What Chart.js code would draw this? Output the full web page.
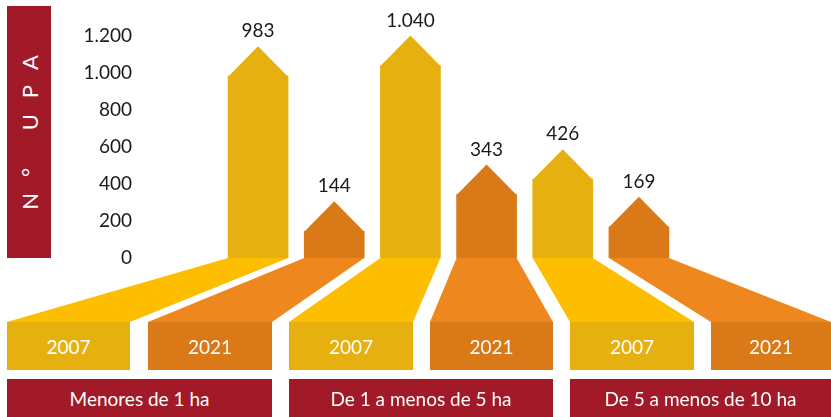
<!DOCTYPE html>
<html lang="es">
<head>
<meta charset="UTF-8">
<title>N° UPA por tamaño</title>
<script src="https://cdn.jsdelivr.net/npm/chart.js"></script>
<style>
  body { margin: 0; background: #fff; font-family: Lato, sans-serif; }
  #wrap { position: relative; width: 831px; height: 417px; overflow: hidden; }
  #myChart { position: absolute; left: 0; top: 0; }
  .box { position: absolute; color: #fff; display: flex; align-items: center; justify-content: center; font-size: 19px; }
  .red { background: #A21A27; }
  #ytitle { left: 7px; top: 6px; width: 44px; height: 252px; }
  #ytitle span { display: block; transform: rotate(-90deg); white-space: nowrap; font-size: 22px; letter-spacing: 16px; padding-left: 16px; }
</style>
</head>
<body>
<div id="wrap">
  <canvas id="myChart" width="831" height="417"></canvas>
  <div id="ytitle" class="box red"><span>N° UPA</span></div>
</div>

<script>
// data
const categories = ['Menores de 1 ha', 'De 1 a menos de 5 ha', 'De 5 a menos de 10 ha'];
const years = ['2007', '2021'];
const values2007 = [983, 1040, 426];
const values2021 = [144, 343, 169];
const yTicks = [0, 200, 400, 600, 800, 1000, 1200];

const bodyColors = { '2007': '#E6B011', '2021': '#DA7918' };
const funnelColors = { '2007': '#FDBE00', '2021': '#EE881E' };

// layout of the boxes under the bars
const yearBoxLeft = [7, 148, 289, 430, 570, 711];
const yearBoxWidth = [123, 124, 124, 123, 124, 120];
const catBoxLeft = [7, 289, 570];
const catBoxWidth = [265, 264, 261];
const yearBoxTop = 322, yearBoxH = 48, catBoxTop = 379, catBoxH = 38;

function fmt(v) {
    return String(v).replace(/\B(?=(\d{3})+(?!\d))/g, '.');
}

// one bar per (category, year)
const labels = [];
const values = [];
const barYears = [];
categories.forEach((c, i) => {
    labels.push(c + ' ' + years[0]); values.push(values2007[i]); barYears.push(years[0]);
    labels.push(c + ' ' + years[1]); values.push(values2021[i]); barYears.push(years[1]);
});

// html boxes with years and categories
const wrap = document.getElementById('wrap');
barYears.forEach((yr, i) => {
    const d = document.createElement('div');
    d.className = 'box';
    d.style.left = yearBoxLeft[i] + 'px';
    d.style.top = yearBoxTop + 'px';
    d.style.width = yearBoxWidth[i] + 'px';
    d.style.height = yearBoxH + 'px';
    d.style.background = bodyColors[yr];
    d.textContent = yr;
    wrap.appendChild(d);
});
categories.forEach((c, i) => {
    const d = document.createElement('div');
    d.className = 'box red';
    d.style.left = catBoxLeft[i] + 'px';
    d.style.top = catBoxTop + 'px';
    d.style.width = catBoxWidth[i] + 'px';
    d.style.height = catBoxH + 'px';
    d.textContent = c;
    wrap.appendChild(d);
});

const arrowPlugin = {
    id: 'arrows',
    beforeDatasetsDraw(chart) {
        // funnels from the bar foot down to the year boxes
        const ctx = chart.ctx;
        const base = chart.scales.y.getPixelForValue(0);
        chart.getDatasetMeta(0).data.forEach((bar, i) => {
            const half = bar.width / 2;
            ctx.save();
            ctx.fillStyle = funnelColors[barYears[i]];
            ctx.beginPath();
            ctx.moveTo(bar.x - half, base);
            ctx.lineTo(bar.x + half, base);
            ctx.lineTo(yearBoxLeft[i] + yearBoxWidth[i], yearBoxTop);
            ctx.lineTo(yearBoxLeft[i], yearBoxTop);
            ctx.closePath();
            ctx.fill();
            ctx.restore();
        });
    },
    afterDatasetsDraw(chart) {
        // arrow heads and value labels
        const ctx = chart.ctx;
        chart.getDatasetMeta(0).data.forEach((bar, i) => {
            const half = bar.width / 2;
            ctx.save();
            ctx.fillStyle = bodyColors[barYears[i]];
            ctx.beginPath();
            ctx.moveTo(bar.x - half, bar.y + 0.5);
            ctx.lineTo(bar.x, bar.y - half);
            ctx.lineTo(bar.x + half, bar.y + 0.5);
            ctx.closePath();
            ctx.fill();
            ctx.fillStyle = '#1a1a1a';
            ctx.font = '19px Lato';
            ctx.textAlign = 'center';
            ctx.textBaseline = 'middle';
            ctx.fillText(fmt(values[i]), bar.x, bar.y - half - 15);
            ctx.restore();
        });
    }
};

new Chart(document.getElementById('myChart'), {
    type: 'bar',
    data: {
        labels: labels,
        datasets: [{
            data: values,
            backgroundColor: barYears.map(y => bodyColors[y]),
            barThickness: 60,
            borderWidth: 0
        }]
    },
    options: {
        responsive: false,
        animation: false,
        layout: { padding: { left: 0, right: 154, top: 36, bottom: 159 } },
        plugins: { legend: { display: false }, tooltip: { enabled: false } },
        scales: {
            x: { display: false },
            y: {
                min: 0,
                max: 1200,
                afterBuildTicks: (s) => { s.ticks = yTicks.map(v => ({ value: v })); },
                afterFit: (s) => { s.width = 220; s.paddingTop = 12; s.paddingBottom = 12; },
                grid: { display: false, drawTicks: false },
                border: { display: false },
                ticks: {
                    padding: 88,
                    color: '#1a1a1a',
                    font: { family: 'Lato', size: 19 },
                    callback: (v) => fmt(v)
                }
            }
        }
    },
    plugins: [arrowPlugin]
});
</script>
</body>
</html>
